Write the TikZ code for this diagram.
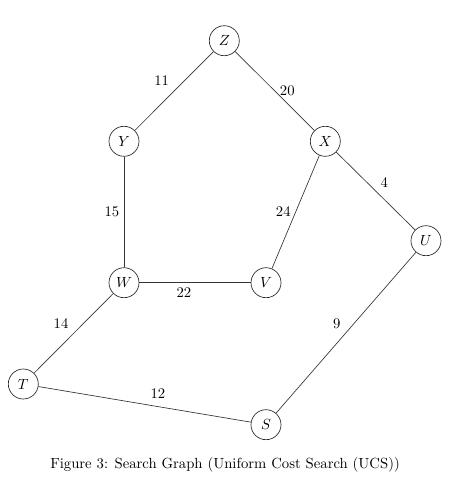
\documentclass[tikz,border=0pt]{standalone}
\begin{document}
\begin{tikzpicture}[x=0.68pt,y=-0.68pt,
  vtx/.style={circle,draw=black!85,line width=0.45pt,minimum size=20.4pt,inner sep=0pt,font=\normalsize},
  edge/.style={draw=black!80,line width=0.45pt},
  wlab/.style={font=\normalsize,inner sep=0pt}]
\useasboundingbox (0,0) rectangle (474,484);
\node[vtx] (Z) at (224.3,40.7) {$Z$};
\node[vtx] (Y) at (124,141.3) {$Y$};
\node[vtx] (X) at (325.3,141.3) {$X$};
\node[vtx] (U) at (426,240.7) {$U$};
\node[vtx] (W) at (124,282.7) {$W$};
\node[vtx] (V) at (266,282.7) {$V$};
\node[vtx] (T) at (23.3,384) {$T$};
\node[vtx] (S) at (266,424.7) {$S$};
\draw[edge] (Z) -- (Y);
\draw[edge] (Z) -- (X);
\draw[edge] (X) -- (U);
\draw[edge] (Y) -- (W);
\draw[edge] (X) -- (V);
\draw[edge] (W) -- (V);
\draw[edge] (W) -- (T);
\draw[edge] (U) -- (S);
\draw[edge] (T) -- (S);
\node[wlab] (l11) at (161.7,81) {11};
\node[wlab] (l20) at (287.3,90.7) {20};
\node[wlab] (l4) at (384.3,182.3) {4};
\node[wlab] (l15) at (112,211.3) {15};
\node[wlab] (l24) at (283.3,212) {24};
\node[wlab] (l22) at (184,292.7) {22};
\node[wlab] (l14) at (61,324) {14};
\node[wlab] (l9) at (336.7,323.3) {9};
\node[wlab] (l12) at (158,394) {12};
\node[wlab] (cap) at (225,465) {Figure 3: Search Graph (Uniform Cost Search (UCS))};
\end{tikzpicture}
\end{document}
